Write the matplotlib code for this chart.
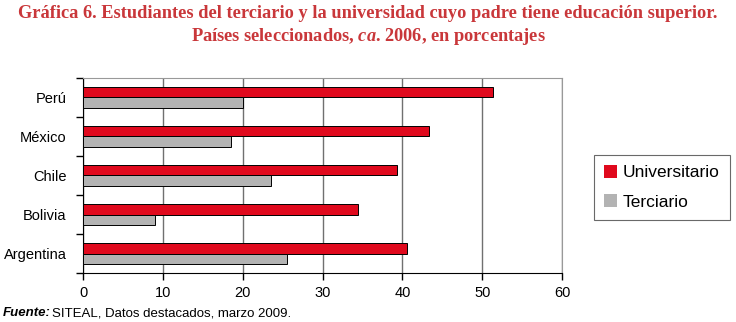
import matplotlib
matplotlib.use('Agg')
import numpy as np
import matplotlib.pyplot as plt
from matplotlib.patches import Patch

paises = ['Argentina', 'Bolivia', 'Chile', 'México', 'Perú']
universitario = [40.6, 34.5, 39.3, 43.3, 51.4]
terciario = [25.6, 9.0, 23.5, 18.5, 20.0]
xticks = [0, 10, 20, 30, 40, 50, 60]

rojo = '#E0091D'
gris = '#B3B3B3'

plt.rcParams['font.family'] = ['Liberation Sans', 'DejaVu Sans']
plt.rcParams['mathtext.fontset'] = 'custom'
plt.rcParams['mathtext.it'] = 'Liberation Serif:italic:bold'
plt.rcParams['mathtext.rm'] = 'Liberation Serif:bold'

fig = plt.figure(figsize=(7.36, 3.22), dpi=100)
ax = fig.add_axes([0.1128, 0.152, 0.6508, 0.606])

y = np.arange(len(paises))
h = 0.27
ax.barh(y + h / 2, universitario, height=h, color=rojo, edgecolor='black', linewidth=0.7, zorder=3)
ax.barh(y - h / 2, terciario, height=h, color=gris, edgecolor='black', linewidth=0.7, zorder=3)

ax.set_xlim(0, 60)
ax.set_ylim(-0.5, len(paises) - 0.5)
ax.set_xticks(xticks)
ax.set_xticklabels([str(t) for t in xticks], fontsize=10.5)
ax.set_yticks(y)
ax.set_yticklabels(paises, fontsize=10.5)
ax.tick_params(axis='y', length=0, pad=12)
ax.set_yticks(np.arange(-0.5, len(paises)), minor=True)
ax.tick_params(axis='y', which='minor', length=5, width=1, direction='out')
ax.tick_params(axis='x', length=5, width=1, direction='out', pad=4)
ax.grid(axis='x', color='#707070', linewidth=1, zorder=0)

ax.spines['left'].set_color('black')
ax.spines['bottom'].set_color('black')
ax.spines['top'].set_color('#999999')
ax.spines['right'].set_color('#999999')

handles = [Patch(facecolor=rojo, edgecolor='none', label='Universitario'),
           Patch(facecolor=gris, edgecolor='none', label='Terciario')]
leg = fig.legend(handles=handles, loc='upper left', bbox_to_anchor=(0.807, 0.52),
                 fontsize=12.5, frameon=True, fancybox=False, edgecolor='#444444',
                 handlelength=0.75, handleheight=0.75, handletextpad=0.3,
                 labelspacing=0.8, borderpad=0.6, borderaxespad=0)
leg.get_frame().set_linewidth(0.8)

fig.text(0.5, 0.985, 'Gráfica 6. Estudiantes del terciario y la universidad cuyo padre tiene educación superior.',
         ha='center', va='top', fontsize=13.2, fontweight='bold', color='#C9373A',
         family=['Liberation Serif', 'DejaVu Serif'])
fig.text(0.5, 0.918, 'Países seleccionados, $ca$. 2006, en porcentajes',
         ha='center', va='top', fontsize=13.2, fontweight='bold', color='#C9373A',
         family=['Liberation Serif', 'DejaVu Serif'])

fig.text(0.004, 0.008, 'Fuente:', ha='left', va='bottom', fontsize=9.5,
         fontweight='bold', fontstyle='italic')
fig.text(0.070, 0.008, 'SITEAL, Datos destacados, marzo 2009.', ha='left', va='bottom', fontsize=9.5)

fig.savefig('out.png', dpi=100)
